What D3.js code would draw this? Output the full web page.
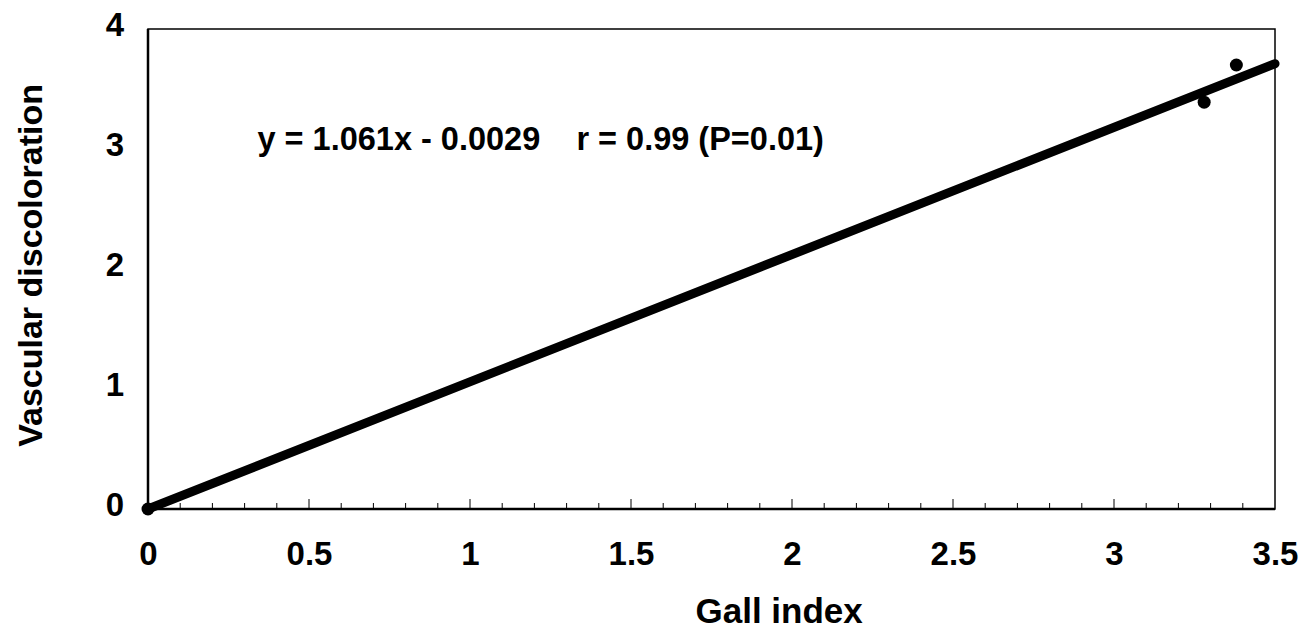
<!DOCTYPE html>
<html>
<head>
<meta charset="utf-8">
<script src="https://cdn.jsdelivr.net/npm/d3@7"></script>
<style>
  html, body { margin: 0; padding: 0; background: #fff; }
  text { font-family: "Liberation Sans", Arial, sans-serif; font-weight: bold; fill: #000; }
</style>
</head>
<body>
<div id="chart"></div>
<script>
// observed points (Gall index vs vascular discoloration)
var gallIndex = [0, 3.28, 3.38];
var discoloration = [0, 3.39, 3.70];

// regression line y = 1.061x - 0.0029
var slope = 1.061;
var intercept = -0.0029;
var fitRange = [0, 3.5];

var xTickValues = [0, 0.5, 1, 1.5, 2, 2.5, 3, 3.5];
var xMinorTicks = d3.range(0, 35).map(function(i) { return i / 10; });
var yTickValues = [0, 1, 2, 3, 4];

var equationLabel = "y = 1.061x - 0.0029    r = 0.99 (P=0.01)";
var xTitle = "Gall index";
var yTitle = "Vascular discoloration";

var width = 1304, height = 629;
var margin = {top: 29, left: 148, right: 29, bottom: 120};
var plotW = width - margin.left - margin.right;
var plotH = height - margin.top - margin.bottom;
var fontSize = "33px";

var svg = d3.select("#chart").append("svg")
    .attr("width", width)
    .attr("height", height);

var x = d3.scaleLinear().domain([0, 3.5]).range([0, plotW]);
var y = d3.scaleLinear().domain([0, 4]).range([plotH, 0]);

var g = svg.append("g")
    .attr("transform", "translate(" + margin.left + "," + margin.top + ")");

// plot frame
g.append("rect")
    .attr("x", 0).attr("y", 0)
    .attr("width", plotW).attr("height", plotH)
    .attr("fill", "none")
    .attr("stroke", "#000")
    .attr("stroke-width", 1.5);

// minor ticks on x axis, pointing inward
g.selectAll(".minor")
    .data(xMinorTicks)
    .enter()
    .append("line")
        .attr("class", "minor")
        .attr("x1", function(d) { return x(d); })
        .attr("x2", function(d) { return x(d); })
        .attr("y1", plotH)
        .attr("y2", function(d) { return Math.abs(d * 2 - Math.round(d * 2)) < 1e-6 ? plotH - 10 : plotH - 6; })
        .attr("stroke", "#000")
        .attr("stroke-width", 1);

// heavier left and bottom axis lines
g.append("line")
    .attr("x1", 0).attr("x2", 0).attr("y1", 0).attr("y2", plotH)
    .attr("stroke", "#000").attr("stroke-width", 2.5);
g.append("line")
    .attr("x1", 0).attr("x2", plotW).attr("y1", plotH).attr("y2", plotH)
    .attr("stroke", "#000").attr("stroke-width", 2.5);

// x axis labels
var xAxis = d3.axisBottom(x)
    .tickValues(xTickValues)
    .tickSize(0)
    .tickPadding(33)
    .tickFormat(d3.format("~g"));
var xg = g.append("g")
    .attr("transform", "translate(0," + plotH + ")")
    .call(xAxis);
xg.select(".domain").remove();
xg.selectAll("text")
    .attr("font-size", fontSize)
    .attr("font-family", "Liberation Sans, Arial, sans-serif")
    .attr("font-weight", "bold");

// y axis labels
var yAxis = d3.axisLeft(y)
    .tickValues(yTickValues)
    .tickSize(0)
    .tickPadding(24)
    .tickFormat(d3.format("d"));
var yg = g.append("g").call(yAxis);
yg.select(".domain").remove();
yg.selectAll("text")
    .attr("font-size", fontSize)
    .attr("font-family", "Liberation Sans, Arial, sans-serif")
    .attr("font-weight", "bold")
    .attr("dy", "0.2em");

// regression line
var line = d3.line()
    .x(function(d) { return x(d); })
    .y(function(d) { return y(Math.max(0, slope * d + intercept)); });
g.append("path")
    .datum(fitRange)
    .attr("d", line)
    .attr("fill", "none")
    .attr("stroke", "#000")
    .attr("stroke-width", 9)
    .attr("stroke-linecap", "round");

// observed points
g.selectAll(".dot")
    .data(gallIndex)
    .enter()
    .append("circle")
        .attr("class", "dot")
        .attr("cx", function(d) { return x(d); })
        .attr("cy", function(d, i) { return y(discoloration[i]); })
        .attr("r", 6.5)
        .attr("fill", "#000");

// equation text
g.append("text")
    .attr("x", x(0.34))
    .attr("y", y(2.99))
    .attr("font-size", "32.5px")
    .style("white-space", "pre")
    .attr("xml:space", "preserve")
    .text(equationLabel);

// axis titles
svg.append("text")
    .attr("x", margin.left + x(1.96))
    .attr("y", 623)
    .attr("text-anchor", "middle")
    .attr("font-size", "35px")
    .text(xTitle);

svg.append("text")
    .attr("transform", "translate(42," + (margin.top + y(2.03)) + ") rotate(-90)")
    .attr("text-anchor", "middle")
    .attr("font-size", "34px")
    .text(yTitle);
</script>
</body>
</html>
